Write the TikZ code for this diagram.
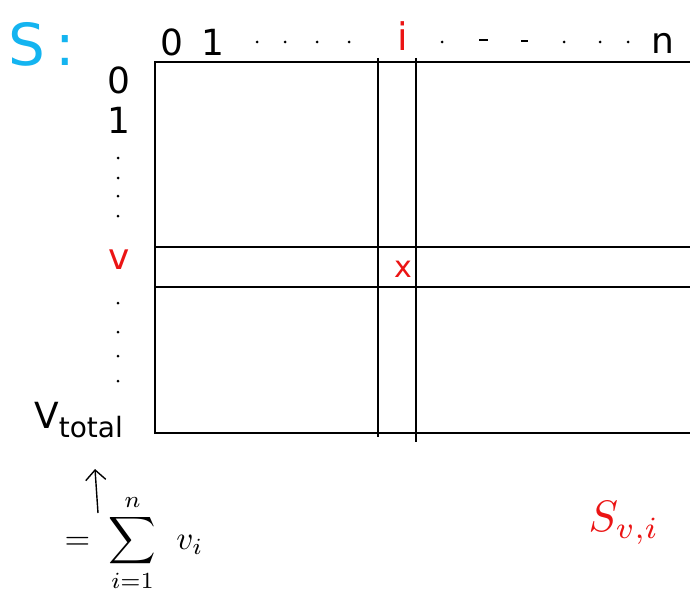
\documentclass[tikz,border=0pt]{standalone}
\usepackage{fontspec}
\setmainfont{DejaVu Sans}
\usetikzlibrary{arrows.meta}
\definecolor{skyblue}{RGB}{20,180,240}
\definecolor{inkred}{RGB}{235,20,20}
\begin{document}
\begin{tikzpicture}[x=1pt,y=-1pt,
  grid/.style={line width=1.5pt,black},
  lbl/.style={font=\fontsize{36}{38}\selectfont,inner sep=0pt},
  redlbl/.style={lbl,text=inkred},
  dotmark/.style={fill=black},
  arr/.style={line width=1.4pt,-{Straight Barb[length=10pt,width=20pt,line width=1.4pt]}}]
\useasboundingbox (0,0) rectangle (690,594);
% outer frame (open on right)
\draw[grid] (690,62) -- (155,62) -- (155,433) -- (690,433);
% vertical band
\coordinate (c1t) at (378,58); \coordinate (c1b) at (378,437);
\coordinate (c2t) at (416,58); \coordinate (c2b) at (416,442);
\draw[grid] (c1t) -- (c1b);
\draw[grid] (c2t) -- (c2b);
% horizontal band
\draw[grid] (155,247) -- (690,247);
\draw[grid] (155,287) -- (690,287);
\node[redlbl,font=\fontsize{30}{32}\selectfont] (x) at (403,269) {x};
% top labels
\node[lbl,text=skyblue,font=\fontsize{58}{60}\selectfont] (S) at (42,44) {S\,:};
\node[lbl] (t0) at (172,42) {0};
\node[lbl] (t1) at (213,42) {1};
\foreach \xx in {257,285,317,349,442,564,600,628}
  \fill[dotmark] (\xx,42) circle (1.5pt);
\draw[line width=1.5pt] (479,40) -- (488,40);
\draw[line width=1.5pt] (521,41) -- (528,41);
\node[redlbl,font=\fontsize{38}{40}\selectfont] (ti) at (403,36) {i};
\node[lbl] (tn) at (663,43) {n};
% left labels
\node[lbl] (l0) at (119,80) {0};
\node[lbl] (l1) at (119,120) {1};
\foreach \yy in {158,178,196,216,303,332,356,381}
  \fill[dotmark] (118,\yy) circle (1.5pt);
\node[redlbl,font=\fontsize{36}{38}\selectfont] (lv) at (119,260) {v};
\node[lbl,anchor=west] (vt) at (34,420)
  {V\raisebox{-9pt}{\fontsize{28}{30}\selectfont total}};
% sum
\node[inner sep=0pt,scale=3.3,anchor=west] (sum) at (64,543)
  {$\displaystyle=\;\sum_{i=1}^{n}\;\, v_i$};
\coordinate (arrtip) at (95,469);
\draw[arr] (98,513) -- (arrtip);
% S_{v,i}
\node[inner sep=0pt,text=inkred,scale=4.4] (svi) at (624,523) {$S_{v,i}$};
\end{tikzpicture}
\end{document}
